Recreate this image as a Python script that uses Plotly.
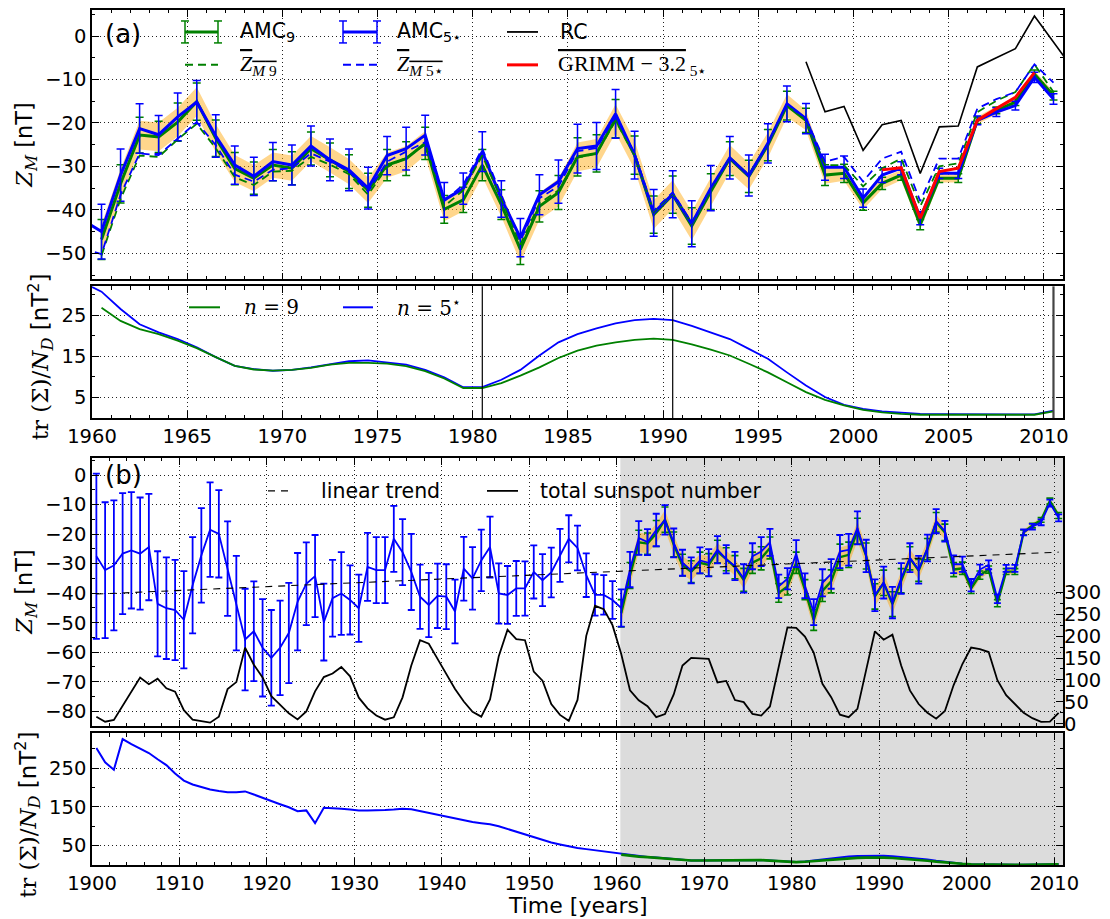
import plotly.graph_objects as go

# ---------------- data ----------------
years_amc = [1960.5 + i for i in range(51)]          # 1960.5 .. 2010.5
years_pre = [1900.5 + i for i in range(60)]          # 1900.5 .. 1959.5
years_full = years_pre + years_amc                    # 1900.5 .. 2010.5

amc5 = [-45.0, -32.0, -21.3, -22.7, -18.6, -15.2, -23.0, -29.7, -32.3, -28.9,
        -29.7, -25.3, -28.5, -30.8, -35.0, -27.5, -25.9, -22.8, -37.7, -35.1,
        -26.6, -37.5, -46.4, -36.5, -33.5, -25.9, -25.3, -17.9, -27.4, -40.7,
        -36.4, -43.2, -35.0, -28.0, -32.1, -24.7, -15.6, -19.0, -30.2, -30.2,
        -37.3, -32.0, -30.4, -41.9, -31.6, -31.6, -19.4, -17.5, -16.0, -9.5,
        -14.5]
amc5_err = [6.3, 6.0, 5.7, 4.4, 5.5, 5.0, 4.9, 4.4, 4.4, 4.4,
            4.6, 4.6, 4.8, 4.8, 4.8, 4.4, 4.9, 4.6, 4.0, 3.6,
            4.6, 4.2, 4.4, 4.6, 5.0, 5.6, 5.4, 5.6, 5.5, 5.4,
            5.4, 5.3, 5.2, 4.9, 4.7, 4.5, 4.1, 3.5, 3.0, 2.6,
            2.1, 1.7, 1.5, 1.5, 1.2, 1.2, 1.0, 1.0, 1.0, 1.2, 1.2]
amc9 = [-46.8, -34.0, -22.8, -23.2, -19.8, -15.1, -23.5, -30.5, -32.7, -29.7,
        -30.4, -25.9, -28.5, -31.2, -35.5, -29.7, -28.2, -24.7, -39.9, -37.7,
        -29.7, -38.8, -49.1, -39.2, -36.0, -27.8, -27.0, -19.0, -27.4, -41.1,
        -36.5, -43.7, -35.8, -28.2, -32.3, -25.1, -16.0, -19.4, -32.0, -31.6,
        -38.4, -33.9, -32.0, -43.4, -32.7, -32.7, -19.4, -17.1, -15.2, -8.8,
        -13.7]
amc9_err = [4.6, 4.4, 4.1, 3.6, 4.4, 4.3, 4.2, 3.7, 3.7, 3.6,
            3.8, 3.8, 3.9, 3.9, 3.9, 3.6, 3.9, 3.7, 3.2, 2.9,
            3.6, 3.4, 3.5, 3.6, 3.9, 4.4, 4.3, 4.4, 4.4, 4.3,
            4.3, 4.2, 4.1, 3.9, 3.7, 3.6, 3.3, 2.8, 2.4, 2.1,
            1.7, 1.4, 1.2, 1.2, 1.0, 1.0, 0.8, 0.8, 0.8, 1.0, 1.0]
band_halfwidth = [3.4, 3.4, 3.3, 3.3, 3.3, 3.3, 3.2, 3.1, 3.0, 2.9,
                  2.9, 2.9, 2.9, 2.9, 2.9, 2.9, 2.9, 2.8, 2.7, 2.6,
                  2.7, 2.8, 3.0, 3.1, 3.2, 3.3, 3.3, 3.3, 3.3, 3.3,
                  3.3, 3.3, 3.2, 3.1, 3.0, 2.9, 2.6, 2.3, 2.0, 1.7,
                  1.5, 1.3, 1.2, 1.1, 1.0, 1.0, 0.9, 0.9, 0.9, 0.9, 0.9]

years_zm5 = [1959.5] + years_amc
zm5 = [-48.8,
       -50.2, -36.5, -27.0, -27.4, -23.6, -19.8, -25.1, -31.9, -33.5, -30.8,
       -30.4, -27.0, -28.9, -31.2, -35.8, -28.9, -26.6, -24.4, -38.0, -34.2,
       -25.9, -36.5, -47.2, -37.3, -34.6, -26.5, -25.8, -18.5, -27.0, -40.2,
       -36.0, -43.0, -35.0, -28.0, -32.0, -24.7, -15.6, -19.0, -28.9, -27.8,
       -33.5, -28.2, -26.6, -38.0, -28.2, -28.2, -16.7, -14.5, -12.9, -6.5,
       -10.7]
zm9 = [-50.5, -37.5, -27.5, -27.8, -23.8, -20.2, -25.8, -32.5, -34.3, -31.2,
       -31.0, -27.8, -29.6, -31.8, -36.5, -30.2, -28.0, -25.0, -39.2, -35.5,
       -27.5, -37.5, -48.0, -38.5, -35.5, -28.0, -27.0, -19.5, -27.5, -40.5,
       -36.2, -43.2, -35.2, -28.0, -32.0, -24.8, -16.0, -19.4, -29.7, -29.7,
       -34.6, -30.4, -28.2, -39.2, -30.0, -29.3, -17.5, -14.9, -12.9, -6.5,
       -12.9]

years_rc = [1997.5 + i for i in range(15)]
rc = [-5.9, -17.4, -16.2, -26.3, -20.4, -19.4, -31.6, -20.9, -20.7, -7.1,
      -5.0, -2.9, 4.6, -1.4, -7.4]
years_grimm = [2001.5 + i for i in range(9)]
grimm = [-30.8, -30.3, -41.9, -31.2, -30.4, -19.4, -16.7, -14.1, -8.4]

# panel (b): early AMC_5* series 1900.5 .. 1959.5
amc5_pre = [-27.5, -32.2, -30.6, -26.6, -25.5, -26.6, -24.4, -43.6, -45.1, -45.7,
            -49.0, -37.3, -27.2, -18.5, -19.9, -31.7, -43.4, -55.7, -52.9, -58.5,
            -61.9, -58.5, -53.5, -42.9, -36.8, -34.2, -49.8, -41.7, -40.1, -42.3,
            -45.1, -31.1, -32.2, -32.2, -21.6, -26.1, -32.8, -41.2, -44.0, -40.9,
            -41.2, -46.2, -31.7, -35.0, -28.9, -24.4, -40.1, -40.6, -38.4, -38.4,
            -32.8, -35.6, -33.0, -27.2, -21.6, -24.7, -33.9, -40.6, -40.6, -42.3]
amc5_pre_err = [28.0, 23.0, 22.0, 20.5, 19.7, 19.0, 18.0, 17.8, 17.2, 17.0,
                16.5, 16.3, 16.0, 16.0, 14.8, 16.0, 16.0, 17.2, 16.9, 16.5,
                16.2, 16.0, 17.0, 16.5, 14.0, 13.9, 13.0, 13.0, 14.0, 11.7,
                11.4, 11.5, 11.2, 11.2, 11.2, 11.2, 12.9, 10.9, 10.9, 10.9,
                11.0, 10.8, 10.8, 10.6, 10.4, 10.3, 10.2, 9.8, 9.3, 9.2,
                9.0, 8.8, 8.4, 9.0, 8.0, 7.6, 7.4, 7.0, 6.7, 6.4]
amc5_full = amc5_pre + amc5
amc5_full_err = amc5_pre_err + amc5_err

trend_years = [1900.5, 2010.5]
trend_vals = [-40.3, -26.1]

sunspot = [15.7, 4.6, 8.5, 40.8, 70.1, 105.5, 90.1, 102.8, 80.9, 73.2,
           30.9, 9.5, 6.0, 2.4, 16.1, 79.0, 95.0, 173.6, 134.6, 105.7,
           62.7, 43.5, 23.7, 9.7, 27.9, 74.0, 106.5, 114.7, 129.7, 108.2,
           59.4, 35.1, 18.6, 9.2, 14.6, 60.2, 132.8, 190.6, 182.6, 148.0,
           113.0, 79.2, 50.8, 27.1, 16.1, 55.3, 154.3, 214.7, 193.0, 190.7,
           118.9, 98.3, 45.0, 20.1, 6.6, 54.2, 200.7, 269.3, 261.7, 225.1,
           159.0, 76.4, 53.4, 39.9, 15.0, 22.0, 66.8, 132.9, 150.2, 149.4,
           148.0, 94.4, 97.6, 54.1, 49.2, 22.5, 18.4, 39.3, 131.0, 220.1,
           218.9, 198.9, 162.4, 91.0, 60.5, 20.6, 14.8, 33.9, 123.0, 211.1,
           191.8, 203.3, 133.0, 76.1, 44.9, 25.1, 11.6, 28.9, 88.3, 136.3,
           173.9, 170.4, 163.6, 99.3, 65.3, 45.8, 24.7, 12.6, 4.2, 4.8,
           24.9]

# tr(Sigma)/N_D
tr5_pre = [302, 265, 246, 325, 312, 301, 289, 273, 258, 236,
           218, 208, 201, 195, 191, 188, 188, 190, 182, 173,
           165, 157, 149, 139, 141, 108, 148, 147, 145, 143,
           141, 141, 141, 142, 143, 145, 144, 139, 134, 129,
           124, 119, 115, 111, 108, 105, 100, 93, 85, 78,
           71, 64, 58, 53, 48, 44, 41, 38, 35, 33]
tr5 = [30.7, 26.5, 22.8, 20.8, 19.2, 17.2, 14.8, 12.7, 11.9, 11.5,
       11.7, 12.3, 13.1, 13.8, 14.0, 13.5, 13.0, 11.7, 9.9, 7.5,
       7.5, 9.3, 11.7, 15.2, 18.4, 20.4, 21.8, 23.0, 23.8, 24.1,
       23.8, 22.4, 20.8, 19.2, 16.8, 14.4, 11.1, 7.9, 5.1, 3.2,
       2.2, 1.6, 1.3, 1.0, 0.95, 0.9, 0.9, 0.9, 0.9, 0.9, 1.8]
tr9 = [26.8, 23.6, 21.6, 20.4, 18.8, 17.0, 14.8, 12.7, 11.8, 11.5,
       11.7, 12.2, 13.0, 13.4, 13.4, 13.2, 12.6, 11.4, 9.6, 7.3,
       7.3, 8.5, 10.3, 12.3, 14.6, 16.4, 17.6, 18.4, 19.0, 19.3,
       19.0, 17.9, 16.6, 15.2, 13.2, 11.1, 8.7, 6.3, 4.4, 3.1,
       2.0, 1.4, 1.0, 0.8, 0.8, 0.8, 0.8, 0.8, 0.8, 0.8, 1.6]
tr5_full = tr5_pre + tr5

marker_years = [1980.5, 1990.5]
edge_year = 2010.5
shade_start = 1960.4

# ---------------- geometry helpers ----------------
# The page body has an 8px margin, so the figure is shifted by (8, 8) in the window.
OFF = 8
SW, SH = 1110, 919                      # screenshot size
PL, PR, PT, PB = 92, 1063, 8, 865       # plot area in screenshot pixels
W, H = SW - OFF, SH - OFF
ML, MR, MT, MB = PL - OFF, SW - PR, PT - OFF, SH - PB
PW = PR - PL
PH = PB - PT


def xp(px):
    return (px - PL) / PW


def yp(py):
    return (PB - py) / PH


def dom(top, bot):
    return [max(0.0, yp(bot)), min(1.0, yp(top))]


GREEN = '#008000'
BLUE = '#0000ff'
RED = '#ff0000'
BLACK = '#000000'
ORANGE = 'rgba(255,165,0,0.45)'
SANS = 'DejaVu Sans'
SERIF = 'Liberation Serif'
MATH = 'DejaVu Serif'

fig = go.Figure()


def err(arr, color, thick=1.5, w=4):
    return dict(type='data', array=arr, visible=True, color=color, thickness=thick, width=w)


# ---------------- panel (a) ----------------
band_hi = [v + h for v, h in zip(amc9, band_halfwidth)]
band_lo = [v - h for v, h in zip(amc9, band_halfwidth)]
fig.add_trace(go.Scatter(x=years_amc + years_amc[::-1], y=band_hi + band_lo[::-1],
                         fill='toself', fillcolor=ORANGE, line=dict(width=0), mode='lines',
                         xaxis='x', yaxis='y', hoverinfo='skip'))
fig.add_trace(go.Scatter(x=years_amc, y=amc9, mode='lines', line=dict(color=GREEN, width=3),
                         error_y=err(amc9_err, GREEN), xaxis='x', yaxis='y'))
fig.add_trace(go.Scatter(x=years_full, y=amc5_full, mode='lines', line=dict(color=BLUE, width=3),
                         error_y=err(amc5_full_err, BLUE), xaxis='x', yaxis='y'))
fig.add_trace(go.Scatter(x=years_amc, y=zm9, mode='lines',
                         line=dict(color=GREEN, width=1.8, dash='8px,5px'), xaxis='x', yaxis='y'))
fig.add_trace(go.Scatter(x=years_zm5, y=zm5, mode='lines',
                         line=dict(color=BLUE, width=1.8, dash='8px,5px'), xaxis='x', yaxis='y'))
fig.add_trace(go.Scatter(x=years_rc, y=rc, mode='lines', line=dict(color=BLACK, width=1.6),
                         xaxis='x', yaxis='y'))
fig.add_trace(go.Scatter(x=years_grimm, y=grimm, mode='lines', line=dict(color=RED, width=3),
                         xaxis='x', yaxis='y'))

# ---------------- panel (a) lower: tr ----------------
fig.add_trace(go.Scatter(x=years_full, y=tr5_full, mode='lines', line=dict(color=BLUE, width=1.8),
                         xaxis='x2', yaxis='y2'))
fig.add_trace(go.Scatter(x=years_amc, y=tr9, mode='lines', line=dict(color=GREEN, width=1.8),
                         xaxis='x2', yaxis='y2'))

# ---------------- panel (b) ----------------
fig.add_trace(go.Scatter(x=years_amc + years_amc[::-1], y=band_hi + band_lo[::-1],
                         fill='toself', fillcolor=ORANGE, line=dict(width=0), mode='lines',
                         xaxis='x3', yaxis='y3', hoverinfo='skip'))
fig.add_trace(go.Scatter(x=years_amc, y=amc9, mode='lines', line=dict(color=GREEN, width=2.4),
                         error_y=err(amc9_err, GREEN, 1.6, 3.5), xaxis='x3', yaxis='y3'))
fig.add_trace(go.Scatter(x=years_full, y=amc5_full, mode='lines', line=dict(color=BLUE, width=1.8),
                         error_y=err(amc5_full_err, BLUE, 1.8, 3.5), xaxis='x3', yaxis='y3'))
fig.add_trace(go.Scatter(x=trend_years, y=trend_vals, mode='lines',
                         line=dict(color=BLACK, width=1.1, dash='7px,6px'), xaxis='x3', yaxis='y3'))
fig.add_trace(go.Scatter(x=years_full, y=sunspot, mode='lines', line=dict(color=BLACK, width=1.8),
                         xaxis='x3', yaxis='y4'))

# ---------------- panel (b) lower: tr ----------------
fig.add_trace(go.Scatter(x=years_full, y=tr5_full, mode='lines', line=dict(color=BLUE, width=2),
                         xaxis='x4', yaxis='y5'))
fig.add_trace(go.Scatter(x=years_amc, y=tr9, mode='lines', line=dict(color=GREEN, width=2.6),
                         xaxis='x4', yaxis='y5'))

# ---------------- axes ----------------
TICKFONT = dict(family=SANS, size=19.5, color=BLACK)
GRID = dict(showgrid=True, gridcolor='#222222', griddash='1px,3px', gridwidth=1)


def xaxis(rng, anchor, dtick, minor_dtick, labels):
    d = dict(range=rng, domain=[0, 1], anchor=anchor, showline=True, linecolor=BLACK,
             linewidth=1.5, mirror='ticks', ticks='inside', ticklen=7, tickwidth=1,
             tickcolor=BLACK, dtick=dtick, tick0=1900, showticklabels=labels,
             tickfont=TICKFONT, zeroline=False,
             minor=dict(ticks='inside', ticklen=3.5, dtick=minor_dtick, tick0=1900,
                        tickcolor=BLACK, showgrid=False))
    d.update(GRID)
    return d


def yaxis(rng, domain, anchor, tickvals, minorvals, mirror='ticks'):
    d = dict(range=rng, domain=domain, anchor=anchor, showline=True, linecolor=BLACK,
             linewidth=1.5, mirror=mirror, ticks='inside', ticklen=7, tickwidth=1,
             tickcolor=BLACK, tickmode='array', tickvals=tickvals, tickfont=TICKFONT,
             zeroline=False,
             minor=dict(ticks='inside', ticklen=3.5, tickmode='array', tickvals=minorvals,
                        tickcolor=BLACK, showgrid=False))
    d.update(GRID)
    return d


za_ticks = [0, -10, -20, -30, -40, -50]
za_minor = [5, -5, -15, -25, -35, -45, -55]
zb_ticks = [0, -10, -20, -30, -40, -50, -60, -70, -80]
zb_minor = [5, -5, -15, -25, -35, -45, -55, -65, -75, -85]
ss_ticks = [0, 50, 100, 150, 200, 250, 300]
ss_minor = [25, 75, 125, 175, 225, 275]

fig.update_layout(
    xaxis=xaxis([1960, 2011], 'y', 5, 1, False),
    yaxis=yaxis([-56, 6], dom(8, 278), 'x', za_ticks, za_minor),
    xaxis2=xaxis([1960, 2011], 'y2', 5, 1, True),
    yaxis2=yaxis([0, 32], dom(285, 417), 'x2', [5, 15, 25], [10, 20, 30]),
    xaxis3=xaxis([1900, 2011], 'y3', 10, 2, False),
    yaxis3=yaxis([-85.1, 5.8], dom(457, 726), 'x3', zb_ticks, zb_minor, mirror=True),
    yaxis4=dict(range=[-6, 607], overlaying='y3', anchor='x3', side='right', showgrid=False,
                showline=False, zeroline=False, ticks='inside', ticklen=7, tickwidth=1,
                tickcolor=BLACK, tickmode='array', tickvals=ss_ticks, tickfont=TICKFONT,
                minor=dict(ticks='inside', ticklen=3.5, tickmode='array', tickvals=ss_minor,
                           tickcolor=BLACK, showgrid=False)),
    xaxis4=xaxis([1900, 2011], 'y5', 10, 2, True),
    yaxis5=yaxis([0, 340], dom(733, 865), 'x4', [50, 150, 250], [100, 200, 300]),
)

# ---------------- shapes ----------------
shapes = []
for xr, yr in (('x3', 'y3 domain'), ('x4', 'y5 domain')):
    shapes.append(dict(type='rect', xref=xr, yref=yr, x0=shade_start, x1=2011, y0=0, y1=1,
                       fillcolor='#dcdcdc', line=dict(width=0), layer='below'))
for yr_ in marker_years:
    shapes.append(dict(type='line', xref='x2', yref='y2 domain', x0=yr_, x1=yr_, y0=0, y1=1,
                       line=dict(color=BLACK, width=1.2)))
shapes.append(dict(type='line', xref='x2', yref='y2 domain', x0=edge_year, x1=edge_year, y0=0,
                   y1=1, line=dict(color='#444444', width=2.2)))


def pline(x0, y0, x1, y1, color, width, dash=None):
    ln = dict(color=color, width=width)
    if dash:
        ln['dash'] = dash
    shapes.append(dict(type='line', xref='paper', yref='paper', x0=xp(x0), y0=yp(y0),
                       x1=xp(x1), y1=yp(y1), line=ln))


def errsample(xa, xb, y, color):
    pline(xa, y, xb, y, color, 3)
    for xx in (xa, xb):
        pline(xx, y - 11, xx, y + 11, color, 1.5)
        pline(xx - 4, y - 11, xx + 4, y - 11, color, 1.5)
        pline(xx - 4, y + 11, xx + 4, y + 11, color, 1.5)


# legend samples panel (a)
R1, R2 = 30, 63
errsample(185, 218, R1, GREEN)
errsample(343, 377, R1, BLUE)
pline(507, R1, 538, R1, BLACK, 1.8)
pline(185, R2, 218, R2, GREEN, 2, '8px,5px')
pline(343, R2, 377, R2, BLUE, 2, '8px,5px')
pline(507, R2, 538, R2, RED, 3)
# legend samples panel tr (a)
pline(189, 306, 220, 306, GREEN, 2)
pline(343, 306, 373, 306, BLUE, 2)
# legend samples panel (b)
pline(268, 490, 292, 490, BLACK, 1.2, '7px,6px')
pline(487, 490, 518, 490, BLACK, 1.8)

fig.update_layout(shapes=shapes)

# ---------------- annotations ----------------
ann = []


def text(px, py, s, size=20.5, family=SANS, xanchor='left', angle=0):
    ann.append(dict(x=xp(px), y=yp(py), xref='paper', yref='paper', text=s, showarrow=False,
                    xanchor=xanchor, yanchor='middle', textangle=angle,
                    font=dict(family=family, size=size, color=BLACK)))


text(103, 32, '(a)', size=26)
text(103, 474, '(b)', size=26)
text(238, R1, 'AMC<sub>9</sub>')
text(395, R1, 'AMC<sub>5⋆</sub>')
text(558, R1, 'RC')
text(238, R2, '<span style="text-decoration:overline"><i>Z</i><sub><i>M</i> 9</sub></span>',
     size=22, family=SERIF)
text(395, R2, '<span style="text-decoration:overline"><i>Z</i><sub><i>M</i> 5⋆</sub></span>',
     size=22, family=SERIF)
text(556, R2, '<span style="text-decoration:overline">GRIMM − 3.2</span><sub> 5⋆</sub>',
     size=22, family=SERIF)
text(242, 306, '<i>n</i> = 9', size=20, family=MATH)
text(395, 306, '<i>n</i> = 5<sup>⋆</sup>', size=20, family=MATH)
text(319, 490, 'linear trend')
text(538, 490, 'total sunspot number')

ZM = '<span style="font-family:DejaVu Serif"><i>Z</i><sub><i>M</i></sub></span> [nT]'
TR = ('<span style="font-family:DejaVu Serif">tr (Σ)/<i>N</i><sub><i>D</i></sub></span>'
      ' [nT<sup>2</sup>]')
text(26, 143, ZM, size=22.5, xanchor='center', angle=-90)
text(40, 356, TR, size=23, xanchor='center', angle=-90)
text(26, 591, ZM, size=22.5, xanchor='center', angle=-90)
text(27, 815, TR, size=23, xanchor='center', angle=-90)
text(578, 906, 'Time [years]', size=22, xanchor='center')

fig.update_layout(annotations=ann)

fig.update_layout(width=W, height=H, margin=dict(l=ML, r=MR, t=MT, b=MB, pad=0),
                  paper_bgcolor='white', plot_bgcolor='white', showlegend=False,
                  font=dict(family=SANS, color=BLACK))

fig.write_html('out.html')
